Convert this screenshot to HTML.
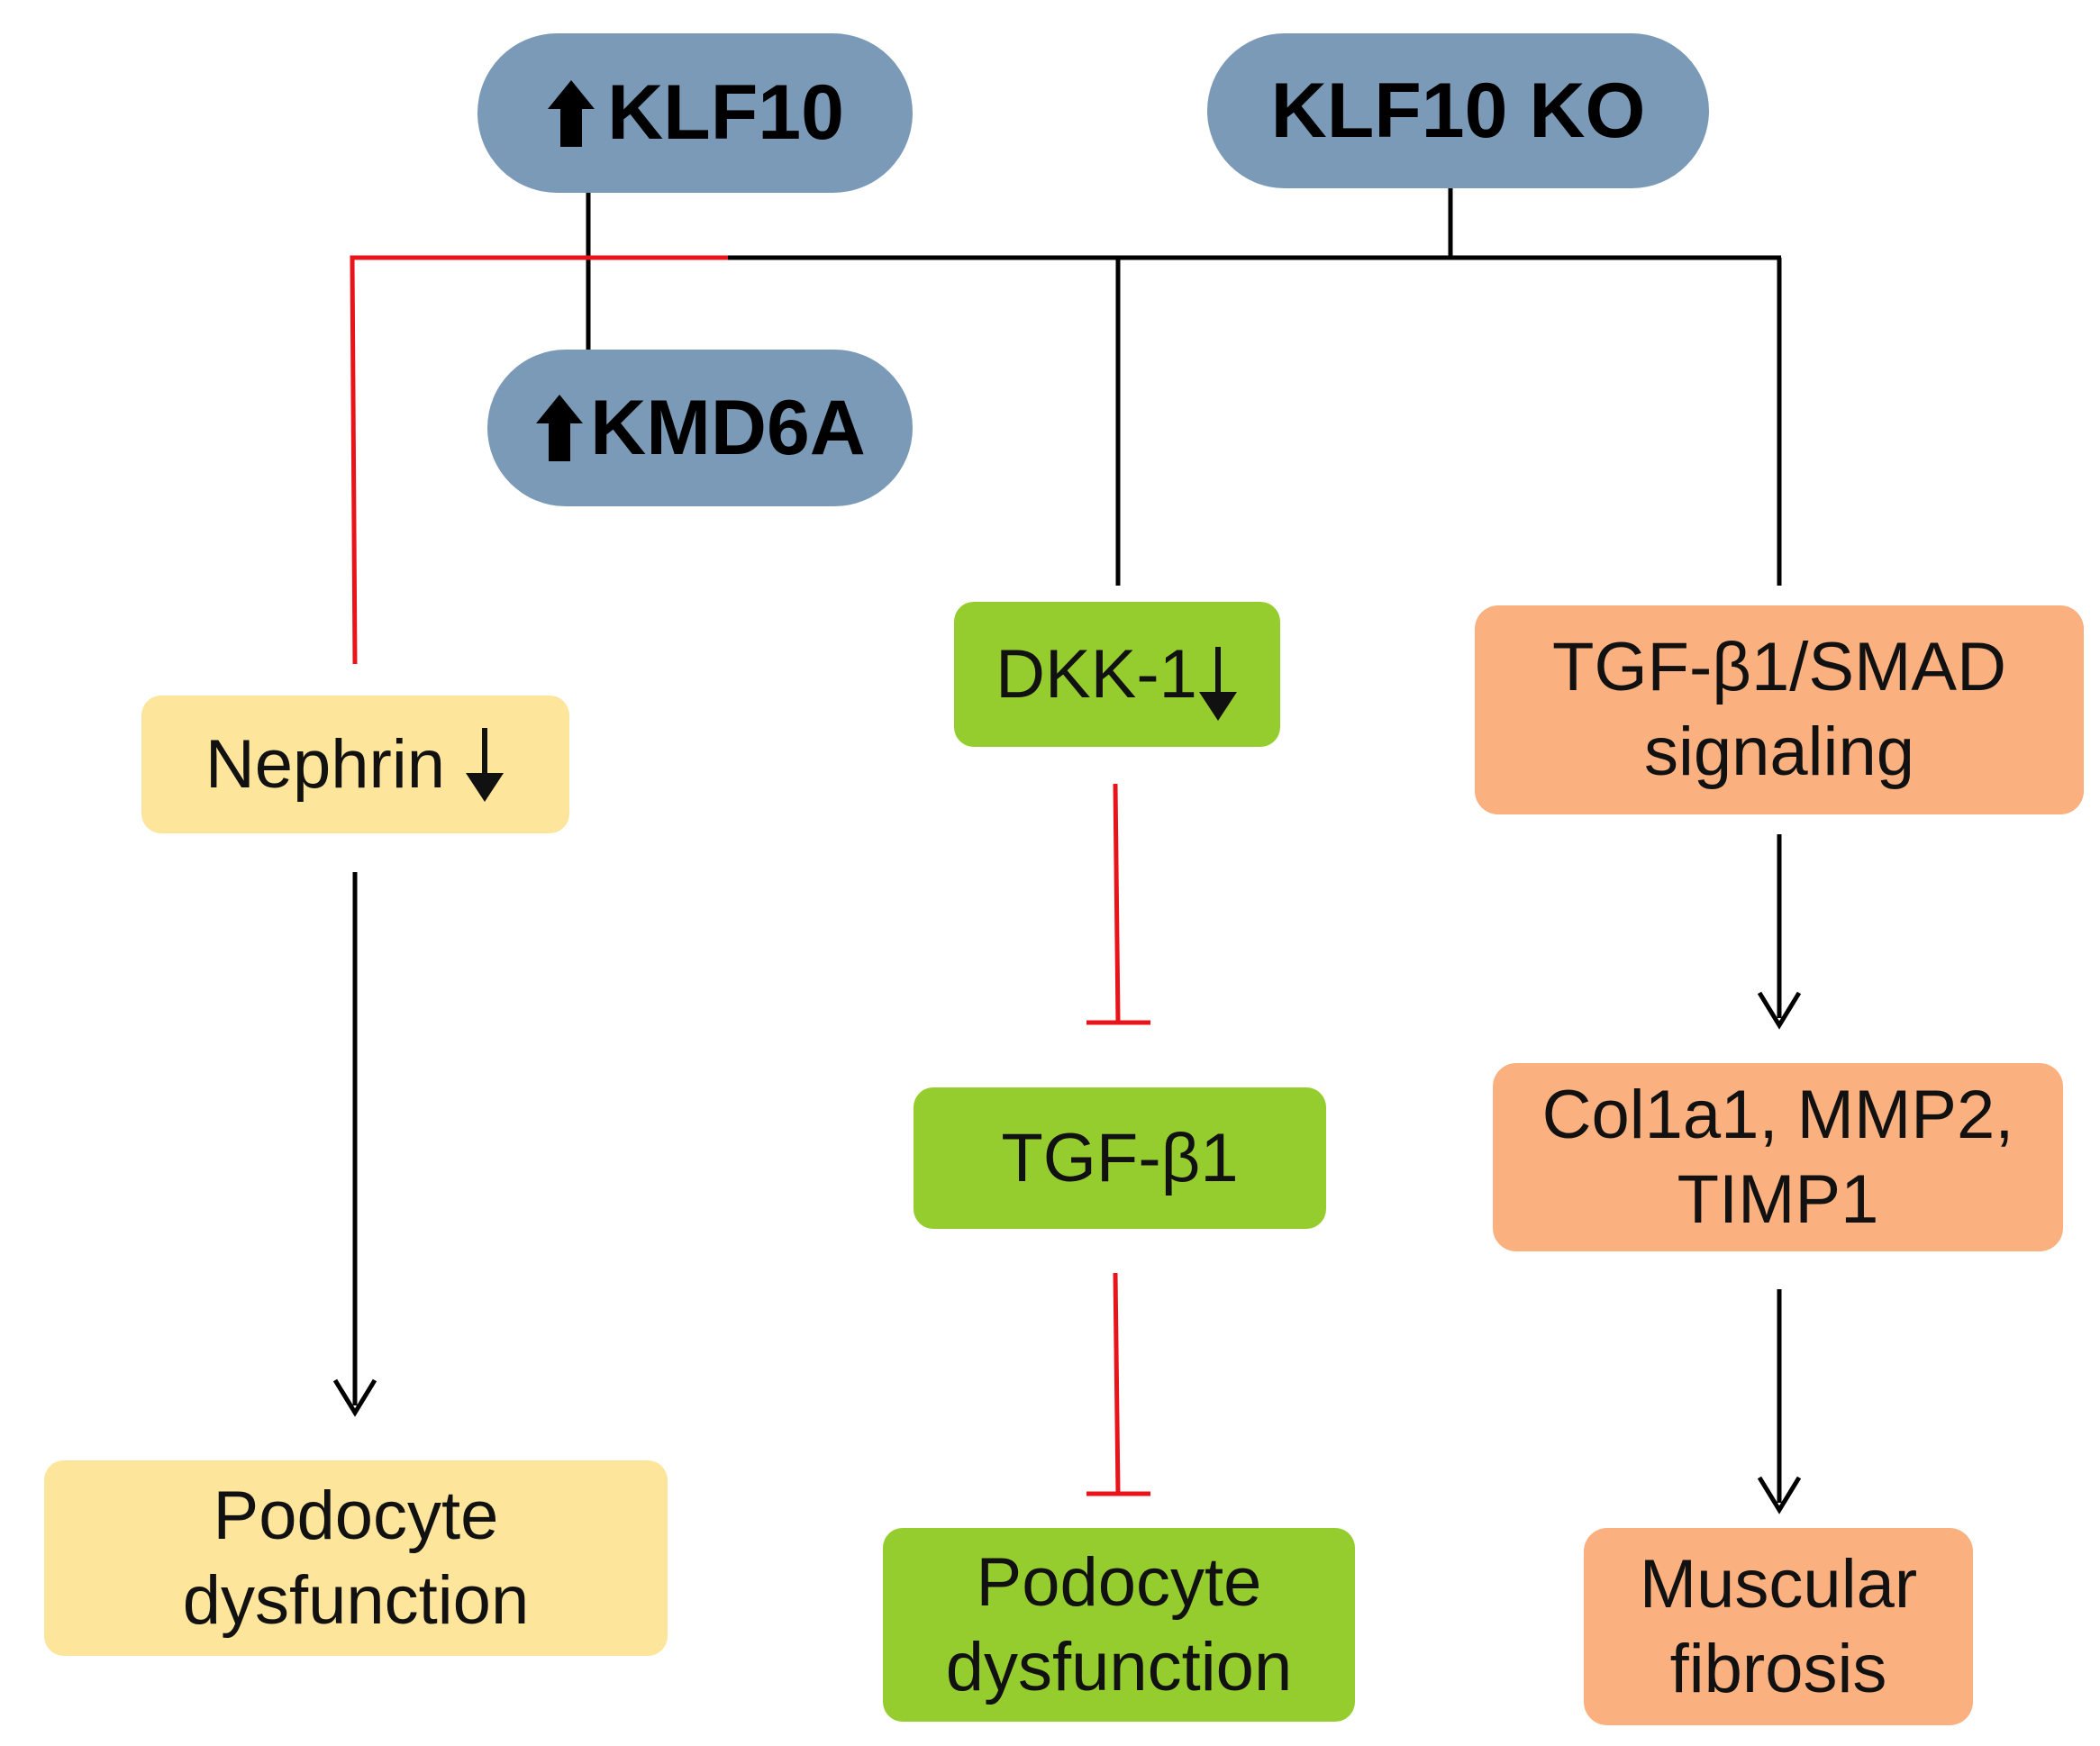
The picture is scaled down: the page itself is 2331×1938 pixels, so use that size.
<!DOCTYPE html>
<html><head><meta charset="utf-8"><style>
body{margin:0;background:#fff;}
.b{position:absolute;display:flex;align-items:center;justify-content:center;text-align:center;font-family:"Liberation Sans",sans-serif;color:#111;box-sizing:border-box;}
.pill{background:#7b9ab7;font-weight:bold;font-size:86px;border-radius:90px;color:#000;}
.y{background:#fde59b;border-radius:22px;font-size:76px;line-height:94px;}
.g{background:#96cd2e;border-radius:22px;font-size:76px;line-height:94px;}
.o{background:#fbb07f;border-radius:26px;font-size:76px;line-height:94px;}
svg.i{display:inline-block;vertical-align:middle;}
</style></head><body>
<div style="position:relative;width:2331px;height:1938px;overflow:hidden">
<svg width="2331" height="1938" style="position:absolute;left:0;top:0">
<g stroke="#000" stroke-width="5" fill="none">
<line x1="653" y1="214" x2="653" y2="390"/>
<line x1="1610" y1="209" x2="1610" y2="286"/>
<line x1="805" y1="286" x2="1977" y2="286"/>
<line x1="1241" y1="286" x2="1241" y2="650"/>
<line x1="1975" y1="286" x2="1975" y2="650"/>
<line x1="394" y1="968" x2="394" y2="1560"/>
<line x1="1975" y1="926" x2="1975" y2="1130"/>
<line x1="1975" y1="1431" x2="1975" y2="1668"/>
</g>
<g fill="none" stroke="#000" stroke-width="5">
<polyline points="372,1532 394,1568 416,1532"/>
<polyline points="1953,1102 1975,1138 1997,1102"/>
<polyline points="1953,1640 1975,1676 1997,1640"/>
</g>
<g stroke="#e8141a" stroke-width="5" fill="none">
<polyline points="394,737 391,286 808,286"/>
<line x1="1238" y1="870" x2="1241" y2="1135"/>
<line x1="1206" y1="1135" x2="1277" y2="1135"/>
<line x1="1238" y1="1413" x2="1241" y2="1658"/>
<line x1="1206" y1="1658" x2="1277" y2="1658"/>
</g>
</svg>
<div class="b pill" style="left:530px;top:37px;width:483px;height:177px"><svg class="i" width="56" height="74" viewBox="0 0 56 74" style="margin-right:12px"><polygon points="28,0 54,32 40,32 40,74 16,74 16,32 2,32" fill="#000"/></svg>KLF10</div>
<div class="b pill" style="left:1340px;top:37px;width:557px;height:172px">KLF10 KO</div>
<div class="b pill" style="left:541px;top:388px;width:472px;height:174px"><svg class="i" width="56" height="74" viewBox="0 0 56 74" style="margin-right:6px"><polygon points="28,0 54,32 40,32 40,74 16,74 16,32 2,32" fill="#000"/></svg>KMD6A</div>
<div class="b y" style="left:157px;top:772px;width:475px;height:153px">Nephrin&nbsp;<svg class="i" width="46" height="82" viewBox="0 0 46 82"><rect x="20" y="0" width="6" height="60" fill="#111"/><polygon points="2,50 44,50 23,82" fill="#111"/></svg></div>
<div class="b y" style="left:49px;top:1621px;width:692px;height:217px">Podocyte<br>dysfunction</div>
<div class="b g" style="left:1059px;top:668px;width:362px;height:161px">DKK-1<svg class="i" width="46" height="82" viewBox="0 0 46 82" style="margin-top:20px"><rect x="20" y="0" width="6" height="60" fill="#111"/><polygon points="2,50 44,50 23,82" fill="#111"/></svg></div>
<div class="b g" style="left:1014px;top:1207px;width:458px;height:157px">TGF-β1</div>
<div class="b g" style="left:980px;top:1696px;width:524px;height:215px">Podocyte<br>dysfunction</div>
<div class="b o" style="left:1637px;top:672px;width:676px;height:232px">TGF-β1/SMAD<br>signaling</div>
<div class="b o" style="left:1657px;top:1180px;width:633px;height:209px">Col1a1, MMP2,<br>TIMP1</div>
<div class="b o" style="left:1758px;top:1696px;width:432px;height:219px">Muscular<br>fibrosis</div>
</div>
</body></html>
